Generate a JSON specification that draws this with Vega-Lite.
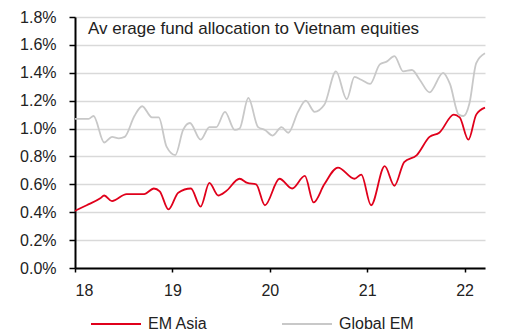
{
  "$schema": "https://vega.github.io/schema/vega-lite/v6.json",
  "width": 410,
  "height": 251,
  "autosize": {"type": "none"},
  "padding": {"left": 75, "top": 17, "right": 29, "bottom": 62},
  "background": "white",
  "config": {
    "view": {"stroke": null},
    "font": "Liberation Sans"
  },
  "title": {
    "text": "Av erage fund allocation to Vietnam equities",
    "anchor": "start",
    "frame": "group",
    "orient": "top",
    "fontSize": 17,
    "fontWeight": "normal",
    "color": "#222222",
    "font": "Liberation Sans",
    "baseline": "middle",
    "offset": 0,
    "dx": 13,
    "dy": 37
  },
  "data": {
    "values": [
      {"t": 18.00, "v": 0.41, "s": "EM Asia"},
      {"t": 18.12, "v": 0.45, "s": "EM Asia"},
      {"t": 18.26, "v": 0.50, "s": "EM Asia"},
      {"t": 18.30, "v": 0.52, "s": "EM Asia"},
      {"t": 18.38, "v": 0.48, "s": "EM Asia"},
      {"t": 18.53, "v": 0.53, "s": "EM Asia"},
      {"t": 18.71, "v": 0.53, "s": "EM Asia"},
      {"t": 18.81, "v": 0.57, "s": "EM Asia"},
      {"t": 18.87, "v": 0.55, "s": "EM Asia"},
      {"t": 18.96, "v": 0.42, "s": "EM Asia"},
      {"t": 19.06, "v": 0.54, "s": "EM Asia"},
      {"t": 19.19, "v": 0.57, "s": "EM Asia"},
      {"t": 19.29, "v": 0.44, "s": "EM Asia"},
      {"t": 19.38, "v": 0.61, "s": "EM Asia"},
      {"t": 19.47, "v": 0.52, "s": "EM Asia"},
      {"t": 19.55, "v": 0.55, "s": "EM Asia"},
      {"t": 19.69, "v": 0.64, "s": "EM Asia"},
      {"t": 19.77, "v": 0.61, "s": "EM Asia"},
      {"t": 19.86, "v": 0.60, "s": "EM Asia"},
      {"t": 19.95, "v": 0.45, "s": "EM Asia"},
      {"t": 20.10, "v": 0.64, "s": "EM Asia"},
      {"t": 20.23, "v": 0.57, "s": "EM Asia"},
      {"t": 20.36, "v": 0.66, "s": "EM Asia"},
      {"t": 20.45, "v": 0.47, "s": "EM Asia"},
      {"t": 20.56, "v": 0.60, "s": "EM Asia"},
      {"t": 20.70, "v": 0.72, "s": "EM Asia"},
      {"t": 20.87, "v": 0.64, "s": "EM Asia"},
      {"t": 20.94, "v": 0.67, "s": "EM Asia"},
      {"t": 21.04, "v": 0.45, "s": "EM Asia"},
      {"t": 21.18, "v": 0.73, "s": "EM Asia"},
      {"t": 21.28, "v": 0.59, "s": "EM Asia"},
      {"t": 21.38, "v": 0.76, "s": "EM Asia"},
      {"t": 21.51, "v": 0.81, "s": "EM Asia"},
      {"t": 21.64, "v": 0.94, "s": "EM Asia"},
      {"t": 21.74, "v": 0.97, "s": "EM Asia"},
      {"t": 21.89, "v": 1.10, "s": "EM Asia"},
      {"t": 21.95, "v": 1.08, "s": "EM Asia"},
      {"t": 22.04, "v": 0.92, "s": "EM Asia"},
      {"t": 22.12, "v": 1.10, "s": "EM Asia"},
      {"t": 22.21, "v": 1.15, "s": "EM Asia"},
      {"t": 18.00, "v": 1.07, "s": "Global EM"},
      {"t": 18.14, "v": 1.07, "s": "Global EM"},
      {"t": 18.19, "v": 1.09, "s": "Global EM"},
      {"t": 18.30, "v": 0.90, "s": "Global EM"},
      {"t": 18.38, "v": 0.94, "s": "Global EM"},
      {"t": 18.45, "v": 0.93, "s": "Global EM"},
      {"t": 18.51, "v": 0.94, "s": "Global EM"},
      {"t": 18.61, "v": 1.09, "s": "Global EM"},
      {"t": 18.69, "v": 1.16, "s": "Global EM"},
      {"t": 18.79, "v": 1.08, "s": "Global EM"},
      {"t": 18.86, "v": 1.08, "s": "Global EM"},
      {"t": 18.94, "v": 0.87, "s": "Global EM"},
      {"t": 19.03, "v": 0.81, "s": "Global EM"},
      {"t": 19.11, "v": 0.99, "s": "Global EM"},
      {"t": 19.18, "v": 1.04, "s": "Global EM"},
      {"t": 19.29, "v": 0.92, "s": "Global EM"},
      {"t": 19.38, "v": 1.01, "s": "Global EM"},
      {"t": 19.45, "v": 1.01, "s": "Global EM"},
      {"t": 19.54, "v": 1.12, "s": "Global EM"},
      {"t": 19.64, "v": 0.99, "s": "Global EM"},
      {"t": 19.69, "v": 1.00, "s": "Global EM"},
      {"t": 19.78, "v": 1.22, "s": "Global EM"},
      {"t": 19.88, "v": 1.01, "s": "Global EM"},
      {"t": 19.95, "v": 0.99, "s": "Global EM"},
      {"t": 20.03, "v": 0.95, "s": "Global EM"},
      {"t": 20.12, "v": 1.01, "s": "Global EM"},
      {"t": 20.19, "v": 0.97, "s": "Global EM"},
      {"t": 20.29, "v": 1.12, "s": "Global EM"},
      {"t": 20.37, "v": 1.20, "s": "Global EM"},
      {"t": 20.46, "v": 1.12, "s": "Global EM"},
      {"t": 20.56, "v": 1.17, "s": "Global EM"},
      {"t": 20.68, "v": 1.41, "s": "Global EM"},
      {"t": 20.79, "v": 1.21, "s": "Global EM"},
      {"t": 20.87, "v": 1.37, "s": "Global EM"},
      {"t": 20.94, "v": 1.35, "s": "Global EM"},
      {"t": 21.03, "v": 1.32, "s": "Global EM"},
      {"t": 21.13, "v": 1.46, "s": "Global EM"},
      {"t": 21.20, "v": 1.48, "s": "Global EM"},
      {"t": 21.28, "v": 1.52, "s": "Global EM"},
      {"t": 21.37, "v": 1.41, "s": "Global EM"},
      {"t": 21.46, "v": 1.42, "s": "Global EM"},
      {"t": 21.54, "v": 1.35, "s": "Global EM"},
      {"t": 21.64, "v": 1.26, "s": "Global EM"},
      {"t": 21.78, "v": 1.40, "s": "Global EM"},
      {"t": 21.85, "v": 1.32, "s": "Global EM"},
      {"t": 21.94, "v": 1.10, "s": "Global EM"},
      {"t": 21.99, "v": 1.09, "s": "Global EM"},
      {"t": 22.05, "v": 1.18, "s": "Global EM"},
      {"t": 22.12, "v": 1.47, "s": "Global EM"},
      {"t": 22.21, "v": 1.54, "s": "Global EM"}
    ]
  },
  "mark": {"type": "line", "interpolate": "monotone", "strokeWidth": 1.8},
  "encoding": {
    "x": {
      "field": "t",
      "type": "quantitative",
      "scale": {"domain": [18, 22.21], "nice": false, "zero": false},
      "axis": {
        "title": null,
        "values": [18, 19, 20, 21, 22],
        "format": "d",
        "grid": false,
        "domainColor": "#000000",
        "domainWidth": 2,
        "tickColor": "#000000",
        "tickSize": 4,
        "tickWidth": 1.5,
        "labelFontSize": 16,
        "labelColor": "#222222",
        "labelPadding": 10,
        "labelDx": 5,
        "labelFont": "Liberation Sans"
      }
    },
    "y": {
      "field": "v",
      "type": "quantitative",
      "scale": {"domain": [0, 1.8], "nice": false},
      "axis": {
        "title": null,
        "values": [0, 0.2, 0.4, 0.6, 0.8, 1.0, 1.2, 1.4, 1.6, 1.8],
        "labelExpr": "format(datum.value, '.1f') + '%'",
        "grid": true,
        "gridColor": "#d9d9d9",
        "gridWidth": 1.5,
        "domainColor": "#000000",
        "domainWidth": 2,
        "tickColor": "#000000",
        "tickSize": 6,
        "tickWidth": 1.5,
        "labelFontSize": 16,
        "labelColor": "#222222",
        "labelPadding": 13,
        "labelFont": "Liberation Sans"
      }
    },
    "color": {
      "field": "s",
      "type": "nominal",
      "scale": {"domain": ["EM Asia", "Global EM"], "range": ["#e0001b", "#c8c8c8"]},
      "legend": {
        "title": null,
        "orient": "none",
        "legendX": 15,
        "legendY": 281,
        "direction": "horizontal",
        "columns": 2,
        "columnPadding": 70,
        "symbolType": "stroke",
        "symbolSize": 2500,
        "symbolStrokeWidth": 1.8,
        "labelFontSize": 16,
        "labelColor": "#222222",
        "labelFont": "Liberation Sans",
        "labelOffset": 6
      }
    }
  }
}
